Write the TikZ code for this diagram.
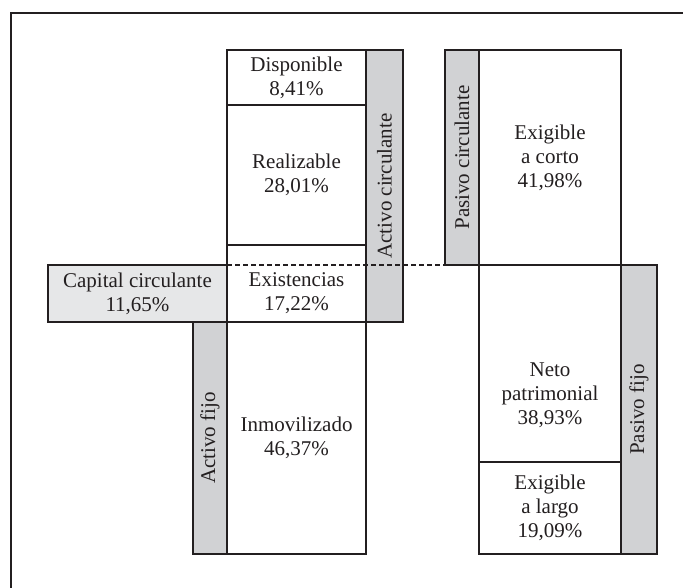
\documentclass[tikz,border=0pt]{standalone}
\usepackage{fontspec}
\setmainfont{Liberation Serif}
\usetikzlibrary{positioning}
\definecolor{BalInk}{HTML}{231F20}
\definecolor{BalBar}{HTML}{D1D2D4}
\definecolor{BalCap}{HTML}{E6E7E8}

\begin{document}
\begin{tikzpicture}[x=1pt,y=-1pt,
    node distance=0pt,
    cell/.style={draw=BalInk,line width=2pt,fill=white,minimum width=139pt,inner sep=0pt,outer sep=0pt,align=center,text=BalInk,font=\fontsize{21}{24}\selectfont},
    bar/.style={draw=BalInk,line width=2pt,fill=BalBar,rotate=90,minimum height=36pt,inner sep=0pt,outer sep=0pt,text=BalInk,font=\fontsize{21}{24}\selectfont},
    txt/.style={align=center,text=BalInk,font=\fontsize{21}{24}\selectfont},
    sep/.style={BalInk,line width=2pt,dash pattern=on 5pt off 3pt}
  ]
  \useasboundingbox (0,0) rectangle (683,588);
  \draw[BalInk,line width=2.5pt] (11,620) -- (11,13) -- (720,13);

  % activo
  \node[cell,minimum height=55pt,anchor=north west] (disp) at (227,50) {Disponible\\8,41\%};
  \node[cell,minimum height=140pt,below=of disp] (real) {Realizable\\28,01\%};
  \node[cell,minimum height=77pt,below=of real] (exis) {};
  \node[cell,minimum height=232pt,below=of exis] (inmo) {Inmovilizado\\46,37\%};
  \node[cell,fill=BalCap,minimum width=179pt,minimum height=57pt,anchor=south east] (capc) at (exis.south west) {Capital circulante\\11,65\%};
  \node[txt] (exist) at (exis.center |- capc.center) {Existencias\\17,22\%};

  % pasivo
  \node[cell,minimum width=142pt,minimum height=215pt,anchor=north west] (exco) at (479,50) {Exigible\\a corto\\41,98\%};
  \node[cell,minimum width=142pt,minimum height=197pt,below=of exco] (neto) {};
  \node[cell,minimum width=142pt,minimum height=92pt,below=of neto] (exla) {Exigible\\a largo\\19,09\%};
  \node[txt] (netot) at ([yshift=-32pt]neto.center) {Neto\\patrimonial\\38,93\%};

  % masas
  \node[bar,minimum width=272pt,minimum height=37pt] (actc) at (384.5,186) {Activo circulante};
  \node[bar,minimum width=232pt,minimum height=34pt] (actf) at (210,438) {Activo fijo};
  \node[bar,minimum width=215pt,minimum height=34pt] (pasc) at (462,157.5) {Pasivo circulante};
  \node[bar,minimum width=289pt,minimum height=36pt] (pasf) at (639,409.5) {Pasivo fijo};

  \draw[sep] (capc.north east) -- (pasc.north west);
\end{tikzpicture}
\end{document}
